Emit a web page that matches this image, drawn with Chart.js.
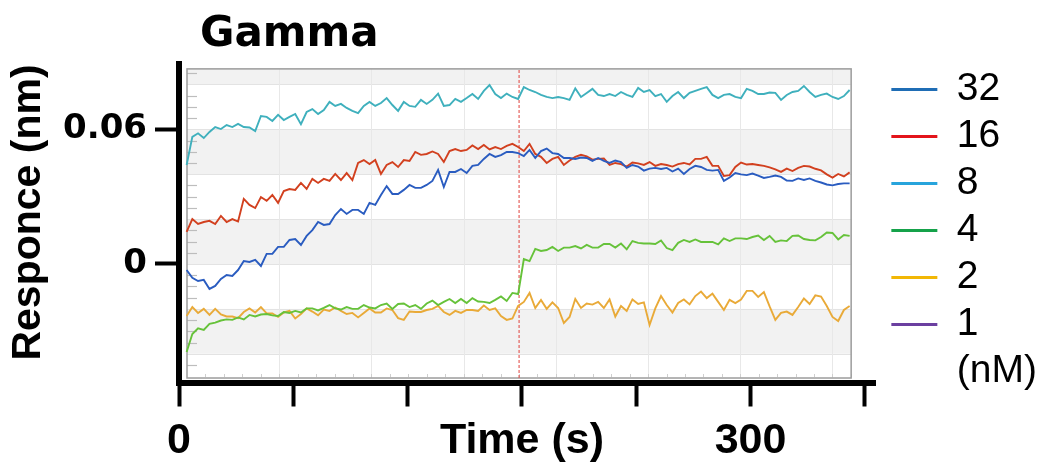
<!DOCTYPE html>
<html>
<head>
<meta charset="utf-8">
<title>Gamma</title>
<script src="https://cdn.jsdelivr.net/npm/chart.js"></script>
<style>
  html, body { margin: 0; padding: 0; background: #ffffff; }
  #wrap { width: 1039px; height: 464px; }
</style>
</head>
<body>
<div id="wrap"><canvas id="c" width="1039" height="464"></canvas></div>
<script>
// Sampling times (s)
const times = [
  4, 7, 10, 13, 16, 19, 22, 25, 28, 31,
  34, 37, 40, 43, 46, 49, 52, 55, 58, 61,
  64, 67, 70, 73, 76, 79, 82, 85, 88, 91,
  94, 97, 100, 103, 106, 109, 112, 115, 118, 121,
  124, 127, 130, 133, 136, 139, 142, 145, 148, 151,
  154, 157, 160, 163, 166, 169, 172, 175, 178, 181,
  184, 187, 190, 193, 196, 199, 202, 205, 208, 211,
  214, 217, 220, 223, 226, 229, 232, 235, 238, 241,
  244, 247, 250, 253, 256, 259, 262, 265, 268, 271,
  274, 277, 280, 283, 286, 289, 292, 295, 298, 301,
  304, 307, 310, 313, 316, 319, 322, 325, 328, 331,
  334, 337, 340, 343, 346, 349, 352
];

// Response (nm) per analyte concentration
const resp32 = [
  -0.0027, -0.0062, -0.0076, -0.0071, -0.0111, -0.0098, -0.0067, -0.0049, -0.0053, -0.0027,
  0.0013, 0.0009, 0.0018, -0.0009, 0.0045, 0.0045, 0.0076, 0.0076, 0.0107, 0.0111,
  0.0085, 0.0125, 0.0151, 0.0187, 0.0174, 0.0178, 0.0218, 0.0245, 0.0223, 0.0241,
  0.0241, 0.0223, 0.0272, 0.0263, 0.0307, 0.0347, 0.0312, 0.0312, 0.0330, 0.0352,
  0.0339, 0.0339, 0.0352, 0.0370, 0.0419, 0.0343, 0.0410, 0.0410, 0.0423, 0.0405,
  0.0437, 0.0441, 0.0468, 0.0490, 0.0477, 0.0485, 0.0499, 0.0499, 0.0494, 0.0481,
  0.0508, 0.0472, 0.0503, 0.0514, 0.0494, 0.0490, 0.0472, 0.0472, 0.0468, 0.0474,
  0.0472, 0.0459, 0.0472, 0.0459, 0.0450, 0.0461, 0.0454, 0.0428, 0.0441, 0.0434,
  0.0416, 0.0425, 0.0428, 0.0423, 0.0428, 0.0412, 0.0425, 0.0401, 0.0423, 0.0437,
  0.0432, 0.0419, 0.0416, 0.0419, 0.0370, 0.0385, 0.0405, 0.0399, 0.0396, 0.0403,
  0.0394, 0.0383, 0.0388, 0.0394, 0.0388, 0.0372, 0.0370, 0.0381, 0.0374, 0.0381,
  0.0370, 0.0363, 0.0354, 0.0350, 0.0356, 0.0359, 0.0359
];
const resp16 = [
  0.0143, 0.0200, 0.0178, 0.0187, 0.0192, 0.0178, 0.0214, 0.0187, 0.0200, 0.0189,
  0.0290, 0.0263, 0.0249, 0.0298, 0.0281, 0.0307, 0.0272, 0.0325, 0.0334, 0.0330,
  0.0361, 0.0334, 0.0379, 0.0361, 0.0379, 0.0370, 0.0401, 0.0374, 0.0405, 0.0374,
  0.0450, 0.0463, 0.0445, 0.0463, 0.0401, 0.0441, 0.0454, 0.0432, 0.0463, 0.0459,
  0.0499, 0.0486, 0.0490, 0.0501, 0.0490, 0.0454, 0.0503, 0.0512, 0.0503, 0.0508,
  0.0528, 0.0512, 0.0530, 0.0510, 0.0521, 0.0512, 0.0526, 0.0535, 0.0521, 0.0503,
  0.0535, 0.0490, 0.0477, 0.0450, 0.0468, 0.0477, 0.0441, 0.0461, 0.0477, 0.0486,
  0.0479, 0.0465, 0.0468, 0.0470, 0.0441, 0.0450, 0.0445, 0.0434, 0.0452, 0.0448,
  0.0441, 0.0454, 0.0437, 0.0445, 0.0441, 0.0434, 0.0445, 0.0450, 0.0443, 0.0468,
  0.0468, 0.0477, 0.0437, 0.0437, 0.0392, 0.0396, 0.0432, 0.0452, 0.0443, 0.0445,
  0.0441, 0.0437, 0.0430, 0.0421, 0.0410, 0.0425, 0.0414, 0.0428, 0.0437, 0.0434,
  0.0424, 0.0417, 0.0399, 0.0385, 0.0401, 0.0390, 0.0408
];
const resp8 = [
  0.0441, 0.0566, 0.0582, 0.0561, 0.0588, 0.0610, 0.0601, 0.0619, 0.0610, 0.0624,
  0.0610, 0.0608, 0.0592, 0.0659, 0.0655, 0.0637, 0.0664, 0.0641, 0.0655, 0.0668,
  0.0623, 0.0677, 0.0690, 0.0668, 0.0686, 0.0722, 0.0704, 0.0713, 0.0695, 0.0682,
  0.0672, 0.0704, 0.0722, 0.0704, 0.0717, 0.0739, 0.0708, 0.0682, 0.0722, 0.0704,
  0.0700, 0.0731, 0.0713, 0.0731, 0.0759, 0.0704, 0.0708, 0.0735, 0.0722, 0.0739,
  0.0757, 0.0735, 0.0771, 0.0797, 0.0757, 0.0739, 0.0759, 0.0744, 0.0735, 0.0788,
  0.0775, 0.0766, 0.0753, 0.0744, 0.0739, 0.0744, 0.0739, 0.0731, 0.0782, 0.0744,
  0.0762, 0.0780, 0.0753, 0.0748, 0.0757, 0.0748, 0.0766, 0.0753, 0.0744, 0.0784,
  0.0766, 0.0775, 0.0748, 0.0757, 0.0722, 0.0748, 0.0766, 0.0739, 0.0762, 0.0771,
  0.0780, 0.0788, 0.0753, 0.0739, 0.0753, 0.0757, 0.0744, 0.0739, 0.0780, 0.0771,
  0.0757, 0.0757, 0.0764, 0.0762, 0.0731, 0.0753, 0.0766, 0.0771, 0.0793, 0.0766,
  0.0744, 0.0753, 0.0759, 0.0744, 0.0735, 0.0748, 0.0775
];
const resp4 = [
  -0.0392, -0.0312, -0.0287, -0.0294, -0.0267, -0.0261, -0.0252, -0.0247, -0.0249, -0.0238,
  -0.0247, -0.0227, -0.0234, -0.0225, -0.0223, -0.0229, -0.0232, -0.0214, -0.0218, -0.0209,
  -0.0216, -0.0198, -0.0198, -0.0207, -0.0196, -0.0183, -0.0198, -0.0203, -0.0192, -0.0200,
  -0.0200, -0.0183, -0.0194, -0.0198, -0.0183, -0.0176, -0.0200, -0.0178, -0.0176, -0.0192,
  -0.0183, -0.0200, -0.0176, -0.0163, -0.0183, -0.0169, -0.0156, -0.0174, -0.0156, -0.0174,
  -0.0152, -0.0167, -0.0169, -0.0174, -0.0160, -0.0145, -0.0165, -0.0129, -0.0134, 0.0022,
  0.0013, 0.0067, 0.0058, 0.0062, 0.0076, 0.0058, 0.0073, 0.0073, 0.0080, 0.0069,
  0.0085, 0.0073, 0.0073, 0.0089, 0.0089, 0.0073, 0.0091, 0.0065, 0.0102, 0.0094,
  0.0091, 0.0091, 0.0089, 0.0105, 0.0071, 0.0062, 0.0094, 0.0107, 0.0098, 0.0109,
  0.0098, 0.0098, 0.0098, 0.0087, 0.0114, 0.0102, 0.0114, 0.0114, 0.0111, 0.0120,
  0.0127, 0.0107, 0.0125, 0.0098, 0.0105, 0.0102, 0.0125, 0.0127, 0.0111, 0.0107,
  0.0105, 0.0120, 0.0140, 0.0138, 0.0109, 0.0129, 0.0125
];
const resp2 = [
  -0.0232, -0.0192, -0.0218, -0.0200, -0.0227, -0.0200, -0.0225, -0.0234, -0.0234, -0.0241,
  -0.0214, -0.0198, -0.0216, -0.0192, -0.0220, -0.0220, -0.0236, -0.0216, -0.0209, -0.0243,
  -0.0223, -0.0198, -0.0212, -0.0229, -0.0203, -0.0209, -0.0194, -0.0209, -0.0223, -0.0218,
  -0.0238, -0.0218, -0.0198, -0.0216, -0.0216, -0.0198, -0.0205, -0.0241, -0.0249, -0.0212,
  -0.0214, -0.0214, -0.0205, -0.0200, -0.0187, -0.0214, -0.0227, -0.0209, -0.0218, -0.0205,
  -0.0205, -0.0209, -0.0185, -0.0205, -0.0198, -0.0232, -0.0249, -0.0243, -0.0187, -0.0169,
  -0.0129, -0.0196, -0.0160, -0.0200, -0.0171, -0.0196, -0.0263, -0.0236, -0.0156, -0.0196,
  -0.0176, -0.0181, -0.0169, -0.0196, -0.0158, -0.0234, -0.0187, -0.0209, -0.0158, -0.0178,
  -0.0171, -0.0272, -0.0198, -0.0143, -0.0183, -0.0216, -0.0174, -0.0158, -0.0180, -0.0143,
  -0.0123, -0.0152, -0.0132, -0.0169, -0.0205, -0.0160, -0.0174, -0.0158, -0.0120, -0.0120,
  -0.0147, -0.0125, -0.0189, -0.0249, -0.0218, -0.0212, -0.0227, -0.0192, -0.0154, -0.0178,
  -0.0140, -0.0145, -0.0187, -0.0236, -0.0254, -0.0205, -0.0187
];
const resp1 = [];

// Series keys (nM) and colours
const keys = ['32', '16', '8', '4', '2', '1'];
const keyUnit = '(nM)';
const series = [resp32, resp16, resp8, resp4, resp2, resp1];
const traceColors = ['#2a5cc0', '#d2401f', '#3fb0bd', '#66c23a', '#e9aa38', '#7a4fb0'];
const keyColors = ['#1f6db5', '#e3141b', '#27a4dc', '#15a24a', '#f2b705', '#6b3fa0'];

// Axes
const xRange = [0, 365.5];
const yRange = [-0.0528, 0.0889];
const xTicks = [0, 60, 120, 180, 240, 300, 360];
const xTickLabels = ['0', '', '', 'Time (s)', '', '300', ''];
const yTicks = [0, 0.06];
const yTickLabels = ['0', '0.06'];

// Sensorgram panel behind the traces
const injectionTime = 178.5;
const panelTimeRange = [4.2, 352.8];
const panelRespRange = [-0.0508, 0.0869];
const panelBands = [[0.08, 0.0869], [0.04, 0.06], [0, 0.02], [-0.04, -0.02]];
const panelGridResp = [-0.04, -0.02, 0, 0.02, 0.04, 0.06, 0.08];
const panelGridTimes = [52.6, 101.0, 149.4, 197.8, 246.2, 294.6, 343.0];
const panelMinorResp = [-0.045, -0.035, -0.03, -0.025, -0.015, -0.01, -0.005, 0.005, 0.01, 0.015,
  0.025, 0.03, 0.035, 0.045, 0.05, 0.055, 0.065, 0.07, 0.075, 0.085];

const panelPlugin = {
  id: 'sensorPanel',
  beforeDatasetsDraw(chart) {
    const { ctx } = chart;
    const x = chart.scales.x, y = chart.scales.y;
    const L = x.getPixelForValue(panelTimeRange[0]);
    const R = x.getPixelForValue(panelTimeRange[1]);
    const T = y.getPixelForValue(panelRespRange[1]);
    const B = y.getPixelForValue(panelRespRange[0]);
    ctx.save();
    ctx.fillStyle = '#ffffff';
    ctx.fillRect(L, T, R - L, B - T);
    ctx.fillStyle = '#f2f2f2';
    panelBands.forEach(([a, b]) => {
      const y0 = Math.min(B, y.getPixelForValue(a));
      const y1 = Math.max(T, y.getPixelForValue(b));
      ctx.fillRect(L, y1, R - L, y0 - y1);
    });
    ctx.strokeStyle = '#e3e3e3';
    ctx.lineWidth = 1;
    panelGridResp.forEach(v => {
      const py = Math.round(y.getPixelForValue(v)) + 0.5;
      ctx.beginPath(); ctx.moveTo(L, py); ctx.lineTo(R, py); ctx.stroke();
    });
    ctx.strokeStyle = '#e8e8e8';
    panelGridTimes.forEach(t => {
      const px = Math.round(x.getPixelForValue(t)) + 0.5;
      ctx.beginPath(); ctx.moveTo(px, T); ctx.lineTo(px, B); ctx.stroke();
    });
    ctx.strokeStyle = '#bdbdbd';
    ctx.lineWidth = 1.2;
    panelMinorResp.forEach(v => {
      const py = Math.round(y.getPixelForValue(v)) + 0.5;
      ctx.beginPath(); ctx.moveTo(L, py); ctx.lineTo(L + 10, py); ctx.stroke();
    });
    ctx.strokeStyle = '#cfcfcf';
    ctx.lineWidth = 1;
    const step = (panelGridTimes[1] - panelGridTimes[0]) / 5;
    for (let t = panelTimeRange[0] + step; t < panelTimeRange[1]; t += step) {
      const px = Math.round(x.getPixelForValue(t)) + 0.5;
      ctx.beginPath(); ctx.moveTo(px, B - 4); ctx.lineTo(px, B - 1); ctx.stroke();
    }
    ctx.strokeStyle = '#9c9c9c';
    ctx.lineWidth = 1.5;
    ctx.strokeRect(L, T, R - L, B - T);
    ctx.restore();
  }
};

// Keeps the key a little clear of the plot's right end
const keyOffsetPlugin = {
  id: 'keyOffset',
  afterLayout(chart) {
    const lg = chart.legend;
    if (lg) { lg.left += 8; lg.right += 8; }
  }
};

const datasets = series.map((vals, i) => ({
  label: keys[i],
  data: vals.map((v, j) => ({ x: times[j], y: v })),
  borderColor: traceColors[i],
  backgroundColor: traceColors[i],
  borderWidth: 1.9,
  pointRadius: 0,
  tension: 0,
  fill: false
}));
datasets.push({
  label: 'injection',
  data: [{ x: injectionTime, y: panelRespRange[0] }, { x: injectionTime, y: panelRespRange[1] }],
  borderColor: '#e0413c',
  borderWidth: 1,
  borderDash: [3, 2],
  pointRadius: 0,
  fill: false
});

const boldAxis = { drawOnChartArea: false, drawTicks: true, tickLength: 24, tickWidth: 4, tickColor: '#000000' };

new Chart(document.getElementById('c'), {
  type: 'line',
  data: { datasets },
  plugins: [panelPlugin, keyOffsetPlugin],
  options: {
    responsive: false,
    animation: false,
    devicePixelRatio: 1,
    layout: { padding: 0 },
    scales: {
      x: {
        type: 'linear',
        min: xRange[0],
        max: xRange[1],
        afterBuildTicks: s => { s.ticks = xTicks.map(v => ({ value: v })); },
        afterFit: s => { s.height = 81.5; },
        ticks: {
          autoSkip: false, maxRotation: 0, minRotation: 0,
          callback: (v, i) => xTickLabels[i],
          font: { family: 'Liberation Sans', weight: 'bold', size: 43 },
          color: '#000000',
          padding: 9
        },
        grid: boldAxis,
        border: { display: true, width: 6, color: '#000000' }
      },
      y: {
        type: 'linear',
        min: yRange[0],
        max: yRange[1],
        afterBuildTicks: s => { s.ticks = yTicks.map(v => ({ value: v })); },
        afterFit: s => { s.width = 179; },
        ticks: {
          callback: (v, i) => yTickLabels[i],
          font: { family: 'DejaVu Sans', weight: 'bold', size: 34 },
          color: '#000000',
          padding: 8
        },
        grid: boldAxis,
        border: { display: true, width: 6, color: '#000000' },
        title: {
          display: true,
          text: 'Responce (nm)',
          align: 'end',
          color: '#000000',
          font: { family: 'Liberation Sans', weight: 'bold', size: 41, lineHeight: 1.2 },
          padding: { top: 4, bottom: 0 }
        }
      }
    },
    plugins: {
      tooltip: { enabled: false },
      title: {
        display: true,
        text: '\u2002Gamma',
        position: 'top',
        align: 'start',
        fullSize: false,
        color: '#000000',
        font: { family: 'DejaVu Sans', weight: 'bold', size: 42, lineHeight: 1.2 },
        padding: { top: 10, bottom: 4 }
      },
      legend: {
        position: 'right',
        align: 'start',
        fullSize: true,
        title: { display: true, text: '', font: { size: 10 }, padding: { top: 50, bottom: 0 } },
        labels: {
          boxWidth: 46,
          boxHeight: 3,
          padding: 8,
          color: '#000000',
          font: { family: 'Liberation Sans', size: 39 },
          generateLabels: () => keys.map((k, i) => ({
            text: k,
            fillStyle: keyColors[i],
            strokeStyle: keyColors[i],
            fontColor: '#000000',
            lineWidth: 0,
            hidden: false,
            datasetIndex: i
          })).concat([{
            text: keyUnit,
            fillStyle: 'rgba(0,0,0,0)',
            strokeStyle: 'rgba(0,0,0,0)',
            fontColor: '#000000',
            lineWidth: 0,
            hidden: false
          }])
        }
      }
    }
  }
});
</script>
</body>
</html>
